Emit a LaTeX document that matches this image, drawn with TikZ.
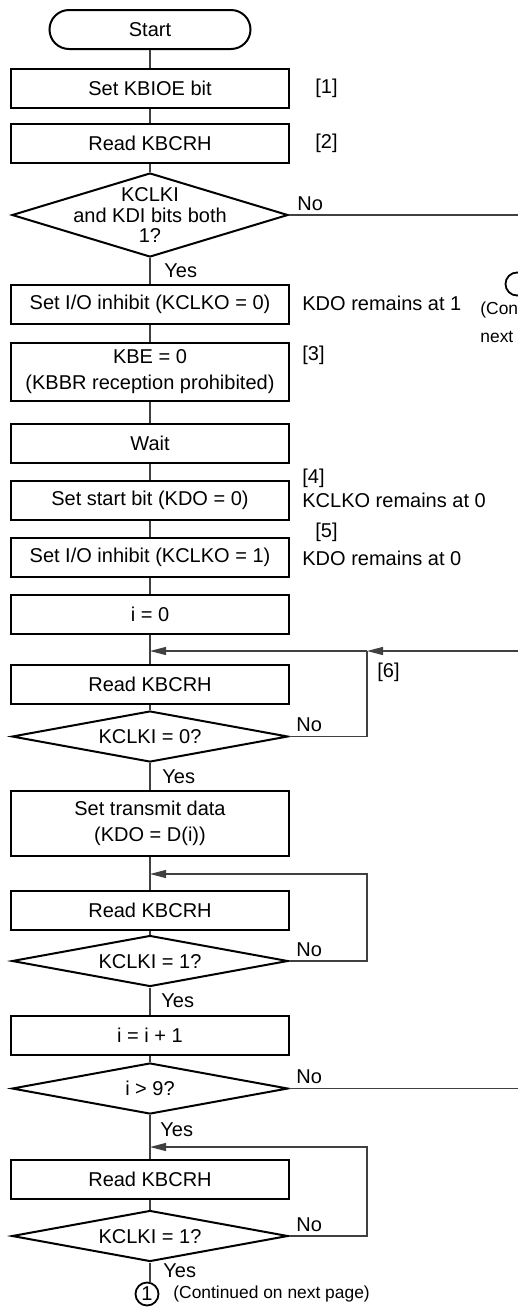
\documentclass[tikz,border=0pt]{standalone}
\usepackage{fontspec}
\setmainfont{Liberation Sans}
\usetikzlibrary{arrows.meta,shapes.geometric,shapes.misc}
\definecolor{flowline}{RGB}{64,64,64}
% text of a decision, with no size of its own
\newcommand{\dtext}[1]{\smash{\raisebox{-4pt}{\makebox[0pt]{\renewcommand{\arraystretch}{0.8}\begin{tabular}{@{}c@{}}#1\end{tabular}}}}}
\tikzset{
  every node/.style={font=\fontsize{10}{13}\selectfont},
  terminal/.style={draw, line width=1pt, rounded rectangle, minimum width=100.5pt, minimum height=19.5pt, inner sep=0pt},
  process/.style={draw, line width=1pt, minimum width=139pt, minimum height=19.5pt, inner sep=0pt, align=center},
  decision/.style={draw, line width=1pt, diamond, minimum width=138pt, minimum height=25.5pt, inner sep=0pt},
  connector/.style={draw, line width=0.9pt, circle, minimum size=11.5pt, inner sep=0pt},
  note/.style={anchor=west, inner sep=0pt},
  smallnote/.style={anchor=west, inner sep=0pt, font=\fontsize{8.7}{10}\selectfont},
  yesno/.style={anchor=base west, inner sep=0pt},
  flow/.style={draw=flowline, line width=0.6pt},
  flowarrow/.style={flow, -{Triangle[length=8pt, width=4pt]}},
}

\begin{document}
\begin{tikzpicture}[x=0.5pt, y=-0.5pt]
\useasboundingbox (0,0) rectangle (518,1308);
\clip (0,0) rectangle (518,1308);
% Steps
\node[terminal] (start) at (150,29.5) {Start};
\node[process] (kbioe) at (150,88) {Set KBIOE bit};
\node[process] (read1) at (150,143.5) {Read KBCRH};
\node[decision, minimum height=42pt] (both) at (150,215) {\dtext{KCLKI\\and KDI bits both\\1?}};
\node[process] (inh0) at (150,304) {Set I/O inhibit (KCLKO = 0)};
\node[process, minimum height=29pt] (kbe) at (150,372) {KBE = 0\\(KBBR reception prohibited)};
\node[process] (wait) at (150,443) {Wait};
\node[process] (stbit) at (150,500.5) {Set start bit (KDO = 0)};
\node[process] (inh1) at (150,557.5) {Set I/O inhibit (KCLKO = 1)};
\node[process] (izero) at (150,614.5) {i = 0};
\node[process] (read2) at (150,684.5) {Read KBCRH};
\node[decision] (clk0) at (150,736.5) {\dtext{KCLKI = 0?}};
\node[process, minimum height=32.5pt] (txd) at (150,823.5) {Set transmit data\\(KDO = D(i))};
\node[process] (read3) at (150,910.5) {Read KBCRH};
\node[decision] (clk1a) at (150,961) {\dtext{KCLKI = 1?}};
\node[process] (inc) at (150,1035.5) {i = i + 1};
\node[decision] (last) at (150,1088.5) {\dtext{i > 9?}};
\node[process] (read4) at (150,1179) {Read KBCRH};
\node[decision] (clk1b) at (150,1236) {\dtext{KCLKI = 1?}};
\node[connector] (cont1) at (147,1294) {1};
\node[smallnote] (cont1txt) at (173,1294) {(Continued on next page)};
% Notes on the right
\node[note] (n1) at (315,88) {[1]};
\node[note] (n2) at (315,143.5) {[2]};
\node[note] (n3) at (302,303) {KDO remains at 1};
\node[note] (n4) at (302,355) {[3]};
\node[note] (n5) at (302,478) {[4]};
\node[note] (n6) at (302,500) {KCLKO remains at 0};
\node[note] (n7) at (315,532) {[5]};
\node[note] (n8) at (302,558) {KDO remains at 0};
\node[note] (n9) at (377,672) {[6]};
\node[connector] (cont2) at (517,284) {};
\node[smallnote] (cont2a) at (480,310) {(Con};
\node[smallnote] (cont2b) at (480,337) {next};
% Joints
\coordinate (edge1) at (518,215);
\coordinate (edge2) at (518,651);
\coordinate (edge3) at (518,1088.5);
\coordinate (join1) at (367,651);
\coordinate (join2) at (367,874);
\coordinate (join3) at (367,1147);
\coordinate (merge1) at (150,651);
\coordinate (merge2) at (150,874);
\coordinate (merge3) at (150,1147);
% Main line
\foreach \a/\b in {start/kbioe, kbioe/read1, read1/both, both/inh0, inh0/kbe, kbe/wait, wait/stbit, stbit/inh1, inh1/izero, izero/read2, read2/clk0, clk0/txd, txd/read3, read3/clk1a, clk1a/inc, inc/last, last/read4, read4/clk1b}
  \draw[flow] (\a) -- (\b);
\draw[flow] (clk1b.south) -- (clk1b.south |- cont1.north);
% Branches
\draw[flow] (both.east) -- (edge1);
\draw[flow] (last.east) -- (edge3);
\draw[flowarrow] (edge2) -- (join1);
\draw[flowarrow] (join1) -- (merge1);
\draw[flow] (clk0.east) -| (join1);
\draw[flowarrow] (clk1a.east) -| (join2) -- (merge2);
\draw[flowarrow] (clk1b.east) -| (join3) -- (merge3);
% Yes / No
\node[yesno] (no1) at ([shift={(8,-5)}]both.east) {No};
\node[yesno] (no2) at ([shift={(7,-5)}]clk0.east) {No};
\node[yesno] (no3) at ([shift={(7,-5)}]clk1a.east) {No};
\node[yesno] (no4) at ([shift={(7,-5)}]last.east) {No};
\node[yesno] (no5) at ([shift={(7,-5)}]clk1b.east) {No};
\node[yesno] (yes1) at ([shift={(14,19)}]both.south) {Yes};
\node[yesno] (yes2) at ([shift={(12,20)}]clk0.south) {Yes};
\node[yesno] (yes3) at ([shift={(11,20)}]clk1a.south) {Yes};
\node[yesno] (yes4) at ([shift={(10,21)}]last.south) {Yes};
\node[yesno] (yes5) at ([shift={(13,15)}]clk1b.south) {Yes};
\end{tikzpicture}
\end{document}
